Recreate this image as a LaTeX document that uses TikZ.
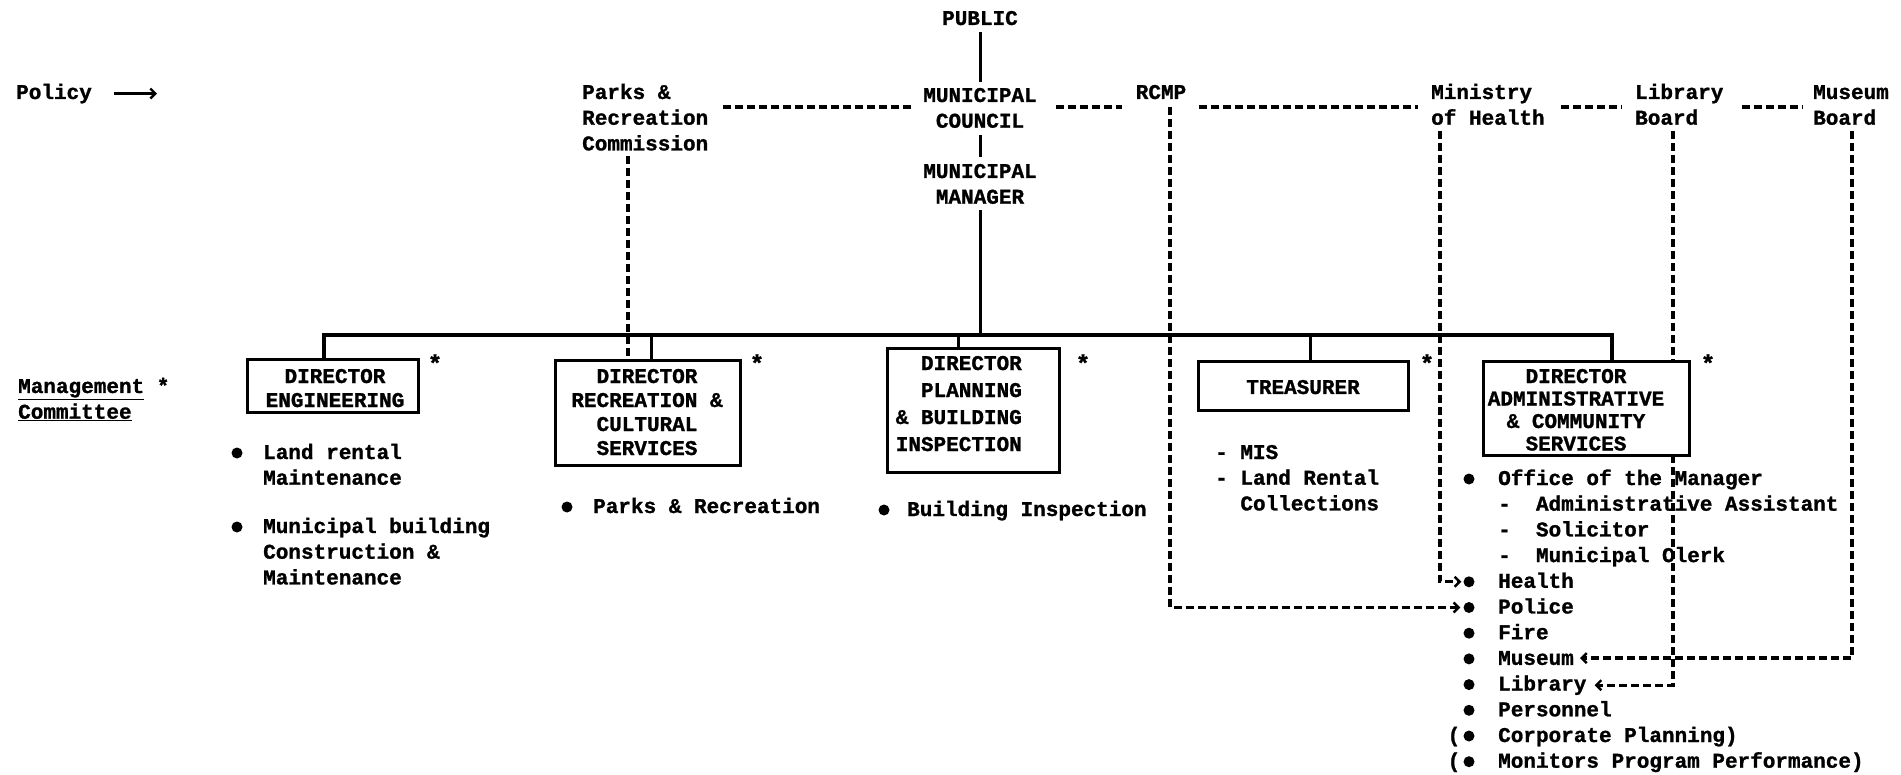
\documentclass[tikz,border=0pt]{standalone}
\usepackage{fontspec}
\newfontfamily\tw{Liberation Mono}[BoldFeatures={FakeBold=1.2}]
\usetikzlibrary{arrows.meta}
\tikzset{
  lbl/.style={font=\tw\bfseries\fontsize{21}{25.7}\selectfont, inner sep=0pt, align=left},
  boxtxt/.style={font=\tw\bfseries\fontsize{21}{24}\selectfont, inner sep=0pt, align=center},
  box/.style={draw, line width=3pt, fill=white, inner sep=0pt},
  dsh/.style={line width=3.2pt, dash pattern=on 8pt off 4pt},
  sol/.style={line width=3pt},
  busline/.style={line width=4pt},
  bul/.style={circle, fill, inner sep=0pt, minimum size=11pt},
  arr/.style={-{Straight Barb[length=5pt,width=10pt,line width=2.4pt]}},
  starmark/.style={font=\tw\bfseries\fontsize{24}{24}\selectfont, inner sep=0pt},
}
\begin{document}
\begin{tikzpicture}[x=1pt,y=-1pt]
\useasboundingbox[fill=white] (0,0) rectangle (1901,775);

% ---- top level labels (anchor base = baseline of the last line)
\node[lbl, anchor=base] (public) at (980,25) {PUBLIC};
\node[lbl, anchor=base, align=center] (council) at (980,127.7) {MUNICIPAL\\COUNCIL};
\node[lbl, anchor=base, align=center] (manager) at (980,203.7) {MUNICIPAL\\MANAGER};
\node[lbl, anchor=base west] (policy) at (16,99) {Policy};
\node[lbl, anchor=base west] (parks) at (582,150.4) {Parks \&\\Recreation\\Commission};
\node[lbl, anchor=base] (rcmp) at (1161,99) {RCMP};
\node[lbl, anchor=base west] (minis) at (1431,124.7) {Ministry\\of Health};
\node[lbl, anchor=base west] (libb) at (1635,124.7) {Library\\Board};
\node[lbl, anchor=base west] (musb) at (1813,124.7) {Museum\\Board};

\draw[sol, arr] ([xshift=22pt]policy.east) -- +(43,0);

% ---- dashed policy links
\coordinate (dy) at (0,107);
\draw[dsh] ([xshift=15pt]parks.east |- dy) -- ([xshift=-12pt]council.west |- dy);
\draw[dsh] ([xshift=19pt]council.east |- dy) -- ([xshift=-14pt]rcmp.west |- dy);
\draw[dsh] ([xshift=13pt]rcmp.east |- dy) -- ([xshift=-13pt]minis.west |- dy);
\draw[dsh] ([xshift=16pt]minis.east |- dy) -- ([xshift=-13pt]libb.west |- dy);
\draw[dsh] ([xshift=18pt]libb.east |- dy) -- ([xshift=-11pt]musb.west |- dy);

% ---- solid hierarchy
\coordinate (busL) at (324,335);
\coordinate (busR) at (1612,335);
\draw[sol, shorten <=7pt, shorten >=6pt] (public.south) -- (council.north);
\draw[sol, shorten <=7pt, shorten >=7pt] (council.south) -- (manager.north);
\draw[sol, shorten <=6pt] (manager.south) -- (manager.south |- busL);

% ---- box centres
\path (332.5,386.5) coordinate (cEng) (647.5,413) coordinate (cRec)
      (973,410.5) coordinate (cPl) (1303,386.5) coordinate (cTr) (1586,408.5) coordinate (cAd);

% ---- admin list
\foreach \t [count=\i] in {Office of the Manager,-~~Administrative Assistant,-~~Solicitor,-~~Municipal Clerk,Health,Police,Fire,Museum,Library,Personnel,Corporate Planning),Monitors Program Performance)}
  \node[lbl, anchor=base west] (adm\i) at (1498,{485+(\i-1)*25.7}) {\t};
\foreach \i in {1,5,6,7,8,9,10,11,12}
  \node[bul] (bp\i) at (1469,{479+(\i-1)*25.7}) {};
\node[lbl, anchor=base] (par11) at (1454,{485+10*25.7}) {(};
\node[lbl, anchor=base] (par12) at (1454,{485+11*25.7}) {(};

% ---- dashed service links
\draw[dsh, shorten <=5pt] ([xshift=46pt]parks.south west) -- ([xshift=46pt]parks.south west |- cRec) ;
\draw[dsh, arr, shorten <=8pt, shorten >=3pt] ([xshift=9pt]rcmp.south) |- (bp6.west);
\draw[dsh, arr, shorten <=6pt, shorten >=2pt] ([xshift=9pt]minis.south west) |- (bp5.west);
\draw[dsh, arr, shorten <=6pt] ([xshift=38pt]libb.south west) |- ([xshift=8pt]adm9.east);
\draw[dsh, arr, shorten <=6pt] ([xshift=39pt]musb.south west) |- ([xshift=6pt]adm8.east);

% ---- boxes
\node[box, minimum width=171pt, minimum height=53pt] (engbox) at (cEng) {};
\node[box, minimum width=185pt, minimum height=104pt] (recbox) at (cRec) {};
\node[box, minimum width=172pt, minimum height=123pt] (plbox) at (cPl) {};
\node[box, minimum width=210pt, minimum height=49pt] (trbox) at (cTr) {};
\node[box, minimum width=206pt, minimum height=93pt] (admbox) at (cAd) {};

\draw[busline] (busL |- engbox.north) -- (busL) -- (busR) -- (busR |- admbox.north);
\coordinate (sRec) at (651,335);
\coordinate (sPl) at (958,335);
\coordinate (sTr) at (1310,335);
\draw[sol] (sRec) -- (sRec |- recbox.north);
\draw[sol] (sPl) -- (sPl |- plbox.north);
\draw[sol] (sTr) -- (sTr |- trbox.north);

% ---- box texts
\node[boxtxt, anchor=base] (engtxt) at (335,407) {DIRECTOR\\ENGINEERING};
\node[boxtxt, anchor=base] (rectxt) at (647,455) {DIRECTOR\\RECREATION \&\\CULTURAL\\SERVICES};
\node[boxtxt, font=\tw\bfseries\fontsize{21}{27}\selectfont, align=right, anchor=base east] (pltxt) at (1022,451) {DIRECTOR\\PLANNING\\\& BUILDING\\INSPECTION};
\node[boxtxt, anchor=base] (trtxt) at (1303,394) {TREASURER};
\node[boxtxt, font=\tw\bfseries\fontsize{21}{22.5}\selectfont, anchor=base] (admtxt) at (1576,450.5) {DIRECTOR\\ADMINISTRATIVE\\\& COMMUNITY\\SERVICES};

% ---- stars
\node[starmark] (st1) at (435,363) {*};
\node[starmark] (st2) at (757,363) {*};
\node[starmark] (st3) at (1083,363) {*};
\node[starmark] (st4) at (1427,363) {*};
\node[starmark] (st5) at (1708,363) {*};

% ---- management committee
\node[lbl, anchor=base west] (mgmt) at (18,418.7) {\underline{Management} *\\\underline{Committee}};

% ---- other lists
\node[bul] (eb1) at (237,453) {};
\node[lbl, anchor=base west] (englist1) at (263,484.7) {Land rental\\Maintenance};
\node[bul] (eb2) at (237,527) {};
\node[lbl, anchor=base west] (englist2) at (263,584.4) {Municipal building\\Construction \&\\Maintenance};
\node[bul] (rb1) at (567,507) {};
\node[lbl, anchor=base west] (reclist) at (593,513) {Parks \& Recreation};
\node[bul] (pb1) at (884,510) {};
\node[lbl, anchor=base west] (pllist) at (907,516) {Building Inspection};
\node[lbl, anchor=base west] (trlist) at (1215,510.4) {-~MIS\\-~Land Rental\\\phantom{-~}Collections};
\end{tikzpicture}
\end{document}
